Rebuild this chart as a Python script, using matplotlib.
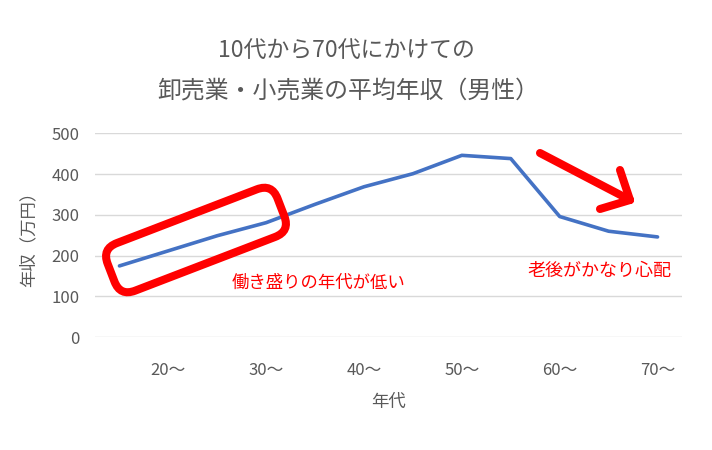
import matplotlib
matplotlib.use("Agg")
import matplotlib.pyplot as plt
from matplotlib.patches import FancyBboxPatch
from matplotlib.transforms import Affine2D

plt.rcParams['font.family'] = ['Noto Sans CJK JP', 'DejaVu Sans']

# data (average annual income, men, wholesale/retail)
categories = ["15〜", "20〜", "25〜", "30〜", "35〜", "40〜",
              "45〜", "50〜", "55〜", "60〜", "65〜", "70〜"]
income = [175, 212, 249, 281, 326, 369, 401, 446, 438, 296, 260, 246]
shown_labels = ["20〜", "30〜", "40〜", "50〜", "60〜", "70〜"]
yticks = [0, 100, 200, 300, 400, 500]

gray = "#595959"
grid_gray = "#d9d9d9"
blue = "#4472C4"
red = "#FF0000"

fig = plt.figure(figsize=(7.12, 4.5), dpi=100)
ax = fig.add_axes([95/712, 1 - 337.3/450, (682 - 95)/712, (337.3 - 133.3)/450])

x = list(range(len(categories)))
ax.plot(x, income, color=blue, linewidth=2.6, solid_capstyle="round", zorder=3)

ax.set_xlim(-0.5, len(categories) - 0.5)
ax.set_ylim(0, 500)
ax.set_yticks(yticks)
ax.set_yticklabels([str(v) for v in yticks], color=gray, fontsize=12)
tick_pos = [categories.index(c) for c in shown_labels]
ax.set_xticks(tick_pos)
ax.set_xticklabels(shown_labels, color=gray, fontsize=12)
ax.tick_params(axis="y", length=0, pad=11)
ax.tick_params(axis="x", length=0, pad=18)
ax.grid(axis="y", color=grid_gray, linewidth=1)
ax.set_axisbelow(True)
for s in ax.spines.values():
    s.set_visible(False)

ax.set_xlabel("年代", color=gray, fontsize=12.5, labelpad=10)
ax.set_ylabel("年収（万円）", color=gray, fontsize=12.5, labelpad=10)

fig.text(346/712, 1 - 50/450, "10代から70代にかけての", ha="center", va="center",
         color=gray, fontsize=16.5)
fig.text(348/712, 1 - 91/450, "卸売業・小売業の平均年収（男性）", ha="center", va="center",
         color=gray, fontsize=17.2)

# overlay in pixel coordinates for hand-drawn annotations
ov = fig.add_axes([0, 0, 1, 1], zorder=5)
ov.set_xlim(0, 712)
ov.set_ylim(0, 450)
ov.axis("off")
ov.patch.set_alpha(0)

cx, cy = 196, 450 - 240
w, h = 182, 51
box = FancyBboxPatch((cx - w/2, cy - h/2), w, h,
                     boxstyle="round,pad=0,rounding_size=16",
                     facecolor="none", edgecolor=red, linewidth=5.8)
box.set_transform(Affine2D().rotate_deg_around(cx, cy, 21) + ov.transData)
ov.add_patch(box)

tip = (630, 450 - 200)
arrow_lines = [((540, 450 - 153), tip), ((620, 450 - 170), tip), ((600, 450 - 209), tip)]
for (x0, y0), (x1, y1) in arrow_lines:
    ov.plot([x0, x1], [y0, y1], color=red, linewidth=5.8, solid_capstyle="round")

ov.text(318, 450 - 283, "働き盛りの年代が低い", ha="center", va="center",
        color=red, fontsize=12.5)
ov.text(599, 450 - 271, "老後がかなり心配", ha="center", va="center",
        color=red, fontsize=13)

fig.savefig("out.png", dpi=100)
